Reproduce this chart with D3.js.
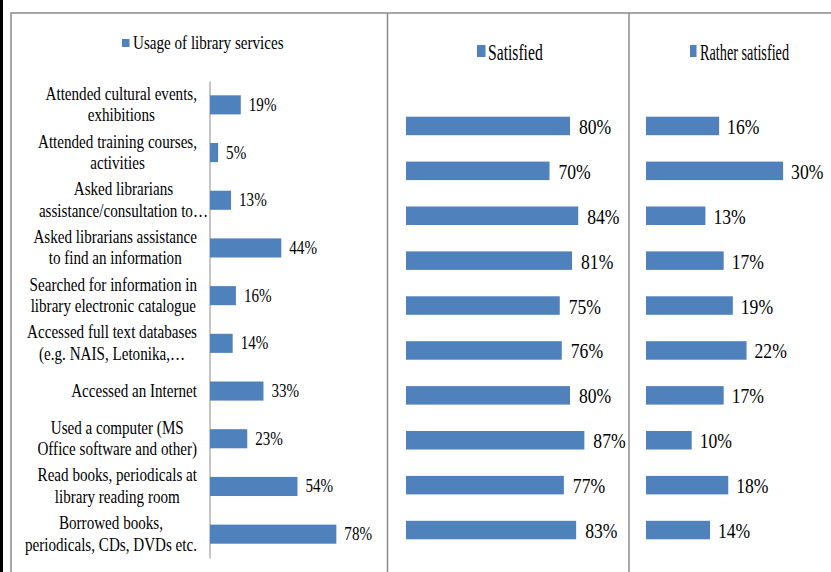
<!DOCTYPE html>
<html>
<head>
<meta charset="utf-8">
<script src="https://cdn.jsdelivr.net/npm/d3@7"></script>
<style>
  html, body { margin: 0; padding: 0; background: #fff; }
  svg { display: block; }
</style>
</head>
<body>
<svg id="chart" width="831" height="572"></svg>
<script>
// ---- data ----
const categories = [
  "Attended cultural events,\nexhibitions",
  "Attended training courses,\nactivities",
  "Asked librarians\nassistance/consultation to…",
  "Asked librarians assistance\nto find an information",
  "Searched for information in\nlibrary electronic catalogue",
  "Accessed full text databases\n(e.g. NAIS, Letonika,…",
  "Accessed an Internet",
  "Used a computer (MS\nOffice software and other)",
  "Read books, periodicals at\nlibrary reading room",
  "Borrowed books,\nperiodicals, CDs, DVDs etc."
];
const usage = [19, 5, 13, 44, 16, 14, 33, 23, 54, 78];
const satisfied = [80, 70, 84, 81, 75, 76, 80, 87, 77, 83];
const ratherSatisfied = [16, 30, 13, 17, 19, 22, 17, 10, 18, 14];
const seriesNames = ["Usage of library services", "Satisfied", "Rather satisfied"];

// ---- setup ----
const W = 831, H = 572;
const BLUE = "#4f81bd", FRAME = "#8c8c8c";
const FONT = "'Liberation Serif', 'Times New Roman', Tinos, 'DejaVu Serif', serif";
const svg = d3.select("#chart");
const idx = d3.range(categories.length);

// frames
svg.append("rect").attr("x", 0).attr("y", 0).attr("width", 3).attr("height", H).attr("fill", "#000");
const frame = svg.append("g").attr("fill", "none").attr("stroke", FRAME).attr("stroke-width", 1.5);
frame.append("path").attr("d", `M11,${H} V13 H${W}`);
frame.append("line").attr("x1", 387.5).attr("x2", 387.5).attr("y1", 13).attr("y2", H);
frame.append("line").attr("x1", 629).attr("x2", 629).attr("y1", 13).attr("y2", H);

function sText(g, x, y, str, size, sx, anchor) {
  return g.append("text")
    .attr("transform", `translate(${x},${y}) scale(${sx},1)`)
    .attr("text-anchor", anchor || "start")
    .attr("font-family", FONT)
    .attr("font-size", size)
    .attr("fill", "#000")
    .text(str);
}

// ---- left panel: usage ----
const yL = d3.scaleBand().domain(idx).range([81, 558]).paddingInner(0.6).paddingOuter(0.3);
const xL = d3.scaleLinear().domain([0, 100]).range([210, 372]);
const SXL = 0.84, FSL = 18;

const axisG = svg.append("g").attr("transform", "translate(209.5,0)")
  .call(d3.axisLeft(yL).tickSize(0).tickSizeOuter(0).tickFormat(""));
axisG.select(".domain").attr("stroke", FRAME).attr("stroke-width", 1);

const gL = svg.append("g");
gL.selectAll("rect").data(idx).join("rect")
  .attr("x", xL(0)).attr("y", i => yL(i))
  .attr("width", i => xL(usage[i]) - xL(0)).attr("height", yL.bandwidth())
  .attr("fill", BLUE);
idx.forEach(i => {
  const cy = yL(i) + yL.bandwidth() / 2;
  sText(gL, xL(usage[i]) + 8, cy + 6, usage[i] + "%", FSL, SXL, "start");
});

// category labels (lines centred in a right-aligned block)
const labG = svg.append("g");
idx.forEach(i => {
  const lines = categories[i].split("\n");
  const cy = yL(i) + yL.bandwidth() / 2;
  const lh = 21.5;
  const tmp = lines.map(l => sText(labG, 0, 0, l, FSL, SXL, "middle"));
  const widths = tmp.map(t => t.node().getComputedTextLength() * SXL);
  const bw = d3.max(widths);
  const widest = lines[widths.indexOf(bw)];
  const right = widest.endsWith("…") ? 208 : 197;
  const cx = right - bw / 2;
  const y0 = lines.length === 1 ? cy + 6 : cy - 5;
  tmp.forEach((t, k) => t.attr("transform", `translate(${cx},${y0 + k * lh}) scale(${SXL},1)`));
});

// left legend
svg.append("rect").attr("x", 122).attr("y", 39).attr("width", 7.5).attr("height", 8).attr("fill", BLUE);
sText(svg, 133, 48.5, seriesNames[0], FSL, SXL, "start");

// ---- middle & right panels ----
const yR = d3.scaleBand().domain(idx).range([103.5, 552.5]).paddingInner(0.588).paddingOuter(0.294);
const xM = d3.scaleLinear().domain([0, 100]).range([406, 611]);
const xR = d3.scaleLinear().domain([0, 100]).range([646, 1103]);
const SXR = 0.8, FSR = 22;

function panel(values, x, gap) {
  const g = svg.append("g");
  g.selectAll("rect").data(idx).join("rect")
    .attr("x", x(0)).attr("y", i => yR(i))
    .attr("width", i => x(values[i]) - x(0)).attr("height", yR.bandwidth())
    .attr("fill", BLUE);
  idx.forEach(i => {
    const cy = yR(i) + yR.bandwidth() / 2;
    sText(g, x(values[i]) + gap, cy + 8, values[i] + "%", FSR, SXR, "start");
  });
}
panel(satisfied, xM, 9);
panel(ratherSatisfied, xR, 8);

// legends
svg.append("rect").attr("x", 477).attr("y", 45).attr("width", 8.5).attr("height", 12).attr("fill", BLUE);
sText(svg, 488, 59.5, seriesNames[1], 23, 0.68, "start");
svg.append("rect").attr("x", 690).attr("y", 45).attr("width", 6.5).attr("height", 12).attr("fill", BLUE);
sText(svg, 700, 59.5, seriesNames[2], 23, 0.62, "start");
</script>
</body>
</html>
